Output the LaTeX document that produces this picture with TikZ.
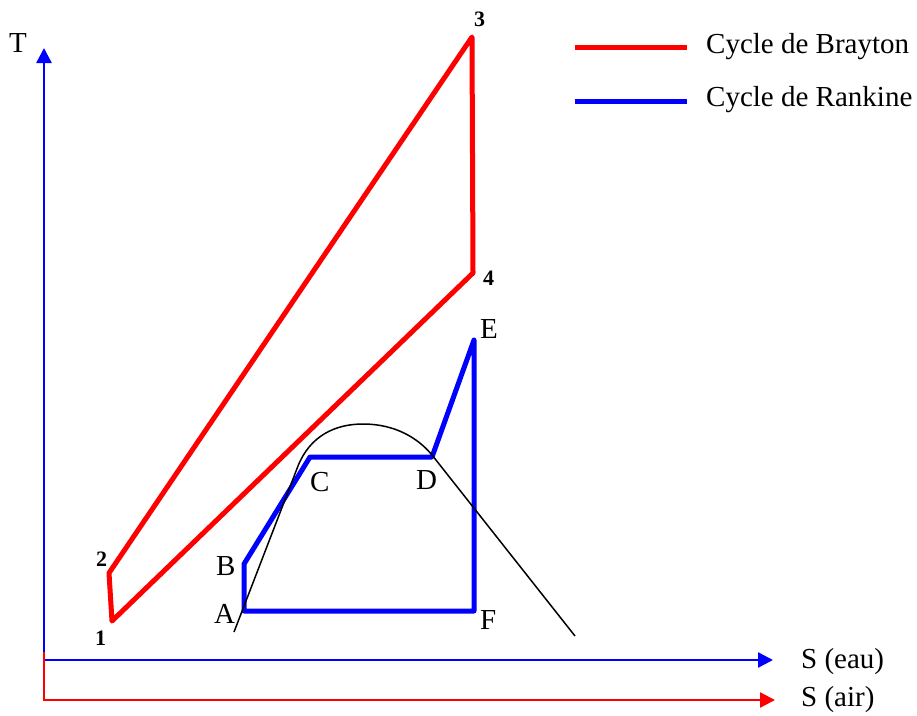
\documentclass[tikz,border=0pt]{standalone}
\usepackage{fontspec}
\setmainfont{Liberation Serif}
\usetikzlibrary{arrows.meta}

\tikzset{
    brayton/.style={red, line width=5pt, line join=round},
    rankine/.style={blue, line width=5pt, line join=round},
    axe/.style={line width=2.5pt},
    lbl/.style={anchor=base west, inner sep=0pt, font=\fontsize{29}{34}\selectfont},
    num/.style={anchor=base west, inner sep=0pt, font=\fontsize{22}{26}\selectfont\bfseries}
}

\begin{document}
\begin{tikzpicture}[x=1pt,y=-1pt,>={Triangle[length=15pt,width=15pt]}]
\useasboundingbox (0,0) rectangle (917,715);

% --------------------------------------------------
% Axes
% --------------------------------------------------
\coordinate (corner) at (44,652);
\coordinate (tTip) at (44,48);
\coordinate (eauStart) at (44,660);
\coordinate (eauTip) at (773,660);
\coordinate (airCorner) at (44,700);
\coordinate (airTip) at (775,700);

\draw[axe, blue, ->] (corner) -- (tTip);
\draw[axe, blue, ->] (eauStart) -- (eauTip);
\draw[axe, red, ->] (corner) -- (airCorner) -- (airTip);

\node[lbl] (tLabel) at (9,52) {T};
\node[lbl] (eauLabel) at (801,668) {S (eau)};
\node[lbl] (airLabel) at (801,706) {S (air)};

% --------------------------------------------------
% Brayton cycle
% --------------------------------------------------
\coordinate (b1) at (112,621);
\coordinate (b2) at (109,573);
\coordinate (b3) at (472,37);
\coordinate (b4) at (473,273);

\draw[brayton] (b1) -- (b2) -- (b3) -- (b4) -- cycle;

\node[num] (n1) at (95,645) {1};
\node[num] (n2) at (96,566) {2};
\node[num] (n3) at (474,26) {3};
\node[num] (n4) at (483,285) {4};

% --------------------------------------------------
% Rankine cycle and saturation dome
% --------------------------------------------------
\coordinate (rA) at (244,611);
\coordinate (rB) at (244,564);
\coordinate (rC) at (310,457);
\coordinate (rD) at (432,457);
\coordinate (rE) at (474,340);
\coordinate (rF) at (474,611);

\draw[rankine] (rA) -- (rB) -- (rC) -- (rD) -- (rE) -- (rF) -- cycle;

\draw[line width=1.5pt]
    (234,632) -- (298,466)
    .. controls (310,436) and (335,424) .. (363,424)
    .. controls (395,424) and (418,438) .. (432,455)
    -- (575,636);

\node[lbl] (lA) at (214,623) {A};
\node[lbl] (lB) at (216,575) {B};
\node[lbl] (lC) at (310,491) {C};
\node[lbl] (lD) at (416,489) {D};
\node[lbl] (lE) at (480,338) {E};
\node[lbl] (lF) at (480,629) {F};

% --------------------------------------------------
% Legend
% --------------------------------------------------
\node[lbl] (legBrayton) at (706,53) {Cycle de Brayton};
\node[lbl] (legRankine) at (706,106) {Cycle de Rankine};
\coordinate (legR1) at (575,47);
\coordinate (legR2) at (687,47);
\coordinate (legB1) at (575,101);
\coordinate (legB2) at (687,101);
\draw[brayton] (legR1) -- (legR2);
\draw[rankine] (legB1) -- (legB2);

\end{tikzpicture}
\end{document}
